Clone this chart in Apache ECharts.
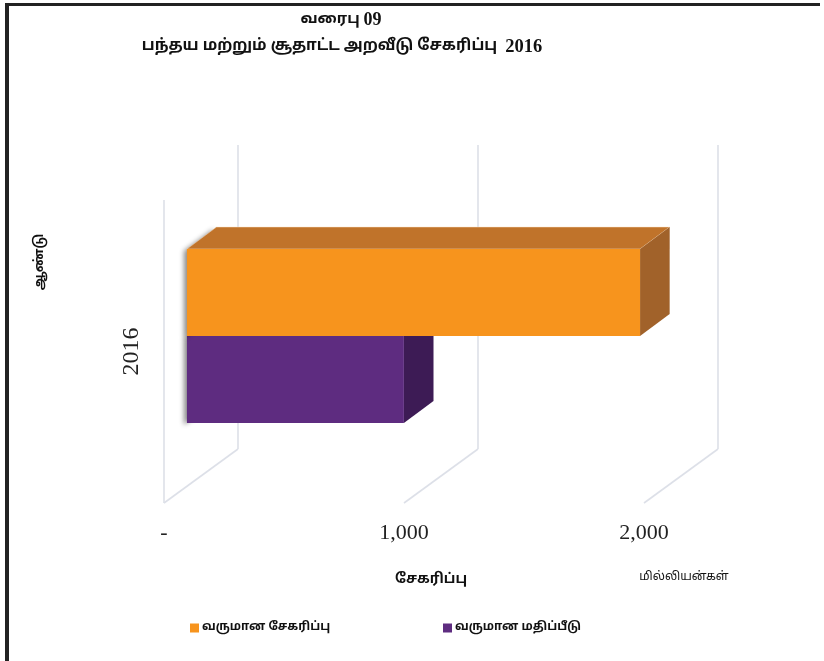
<!DOCTYPE html>
<html><head><meta charset="utf-8">
<script src="https://cdn.jsdelivr.net/npm/echarts/dist/echarts.min.js"></script>
<style>html,body{margin:0;padding:0;background:#fff}#c{width:824px;height:661px}</style>
</head><body><div id="c"></div>
<script>
// ---- data ----
const categories = ['2016'];
const seriesNames = ['வருமான சேகரிப்பு', 'வருமான மதிப்பீடு'];
const collectionValues = [1888];   // வருமான சேகரிப்பு
const estimateValues = [904];      // வருமான மதிப்பீடு
const tickValues = [0, 1000, 2000];
const titleTamil = ['வரைபு', 'பந்தய மற்றும் சூதாட்ட அறவீடு சேகரிப்பு'];
const titleNums = ['09', '2016'];

// ---- styling ----
const TAMIL = "'Noto Sans Tamil','Lohit Tamil','Latha','Noto Sans',sans-serif";
const SERIF = "'Liberation Serif','Times New Roman',serif";
const DEPTH = [74, -55];       // projection of the full depth of the 3D box
const F0 = 0.31, FD = 0.40;    // bar start depth and bar depth (fractions)
const SLOT0 = 0.218, SLOT_H = 0.287;
const GRIDC = '#dde0e8';

function barRenderer(slot, front, topc, side) {
  return function (params, api) {
    const catIdx = api.value(1);
    const val = api.value(0);
    const p0 = api.coord([0, catIdx]);
    const p1 = api.coord([val, catIdx]);
    const band = api.size([0, 1])[1];
    const bandTop = p0[1] - band / 2;
    const top = bandTop + band * (SLOT0 + slot * SLOT_H);
    const h = band * SLOT_H;
    const ox = DEPTH[0] * F0, oy = DEPTH[1] * F0;
    const dx = DEPTH[0] * FD, dy = DEPTH[1] * FD;
    const xl = p0[0] + ox, xr = p1[0] + ox, yt = top + oy, yb = top + h + oy;
    return {
      type: 'group',
      children: [
        { type: 'polygon', shape: { points: [[xl, yt], [xl + dx, yt + dy], [xl + dx, yb + dy], [xl, yb]] },
          style: { fill: '#999', shadowBlur: 5, shadowOffsetX: -3, shadowOffsetY: 2, shadowColor: 'rgba(0,0,0,0.45)' } },
        { type: 'polygon', shape: { points: [[xl, yt], [xl + dx, yt + dy], [xr + dx, yt + dy], [xr, yt]] },
          style: { fill: topc, stroke: 'rgba(255,230,200,0.6)', lineWidth: 0.8 } },
        { type: 'polygon', shape: { points: [[xr, yt], [xr + dx, yt + dy], [xr + dx, yb + dy], [xr, yb]] },
          style: { fill: side } },
        { type: 'rect', shape: { x: xl, y: yt, width: xr - xl, height: yb - yt },
          style: { fill: front } }
      ]
    };
  };
}

function gridRenderer(params, api) {
  const cs = params.coordSys;
  const x = api.coord([api.value(0), 0])[0];
  const top = cs.y, bottom = cs.y + cs.height;
  const children = [
    { type: 'line', shape: { x1: x + DEPTH[0], y1: top + DEPTH[1], x2: x + DEPTH[0], y2: bottom + DEPTH[1] + 1 },
      style: { stroke: GRIDC, lineWidth: 1.6 } },
    { type: 'line', shape: { x1: x + DEPTH[0], y1: bottom + DEPTH[1] + 1, x2: x, y2: bottom },
      style: { stroke: GRIDC, lineWidth: 1.6 } }
  ];
  if (api.value(0) === 0) {
    children.push({ type: 'line', shape: { x1: x, y1: top, x2: x, y2: bottom },
      style: { stroke: GRIDC, lineWidth: 1.6 } });
  }
  return { type: 'group', children };
}

const titleRich = (size) => ({
  t: { fontFamily: TAMIL, fontSize: size, fontWeight: 'bold', fill: '#111' },
  n: { fontFamily: SERIF, fontSize: size + 3, fontWeight: 'bold', fill: '#111' }
});

const chart = echarts.init(document.getElementById('c'));
chart.setOption({
  animation: false,
  backgroundColor: '#fff',
  grid: { left: 164, top: 200, width: 480, height: 303, containLabel: false },
  xAxis: {
    type: 'value', min: 0, max: 2000, interval: 1000,
    axisLine: { show: false }, axisTick: { show: false }, splitLine: { show: false },
    axisLabel: {
      margin: 19, fontFamily: SERIF, fontSize: 22, color: '#222',
      formatter: v => v === 0 ? '-' : v.toLocaleString('en-US')
    }
  },
  yAxis: {
    type: 'category', data: categories,
    axisLine: { show: false }, axisTick: { show: false }, splitLine: { show: false },
    axisLabel: { rotate: 90, margin: 20, fontFamily: SERIF, fontSize: 24, color: '#222' }
  },
  legend: [
    { data: [seriesNames[0]], left: 185, top: 617, itemWidth: 9, itemHeight: 9, itemGap: 5, icon: 'rect',
      textStyle: { fontFamily: TAMIL, fontSize: 12, fontWeight: 'bold', color: '#111', padding: [0, 0, 0, -2] } },
    { data: [seriesNames[1]], left: 438, top: 617, itemWidth: 9, itemHeight: 9, itemGap: 5, icon: 'rect',
      textStyle: { fontFamily: TAMIL, fontSize: 12, fontWeight: 'bold', color: '#111', padding: [0, 0, 0, -2] } }
  ],
  graphic: [
    { type: 'line', shape: { x1: 7, y1: 4, x2: 7, y2: 661 }, style: { stroke: '#222', lineWidth: 4 } },
    { type: 'line', shape: { x1: 5, y1: 4.5, x2: 820, y2: 4.5 }, style: { stroke: '#222', lineWidth: 3 } },
    { type: 'text', x: 341, y: 20, style: { text: '{t|' + titleTamil[0] + ' }{n|' + titleNums[0] + '}',
      rich: titleRich(15), textAlign: 'center', textVerticalAlign: 'middle' } },
    { type: 'text', x: 342, y: 47, style: { text: '{t|' + titleTamil[1] + '  }{n|' + titleNums[1] + '}',
      rich: titleRich(15.5), textAlign: 'center', textVerticalAlign: 'middle' } },
    { type: 'text', x: 40, y: 262, rotation: Math.PI / 2, style: { text: 'ஆண்டு', fontFamily: TAMIL, fontSize: 13,
      fontWeight: 'bold', fill: '#111', textAlign: 'center', textVerticalAlign: 'middle' } },
    { type: 'text', x: 431, y: 580, style: { text: 'சேகரிப்பு', fontFamily: TAMIL, fontSize: 14, fontWeight: 'bold',
      fill: '#111', textAlign: 'center', textVerticalAlign: 'middle' } },
    { type: 'text', x: 684, y: 578, style: { text: 'மில்லியன்கள்', fontFamily: TAMIL, fontSize: 12,
      fill: '#111', textAlign: 'center', textVerticalAlign: 'middle' } }
  ],
  series: [
    { type: 'custom', name: 'grid3d', z: 1, silent: true, renderItem: gridRenderer,
      data: tickValues.map(v => [v, 0]), clip: false },
    { type: 'custom', name: seriesNames[0], z: 3, clip: false, itemStyle: { color: '#F7941D' },
      renderItem: barRenderer(0, '#F7941D', '#C0732A', '#A1622A'),
      encode: { x: 0, y: 1 },
      data: collectionValues.map((v, i) => [v, i]) },
    { type: 'custom', name: seriesNames[1], z: 2, clip: false, itemStyle: { color: '#5E2C80' },
      renderItem: barRenderer(1, '#5E2C80', '#4A2266', '#3D1B55'),
      encode: { x: 0, y: 1 },
      data: estimateValues.map((v, i) => [v, i]) }
  ]
});
</script>
</body></html>
